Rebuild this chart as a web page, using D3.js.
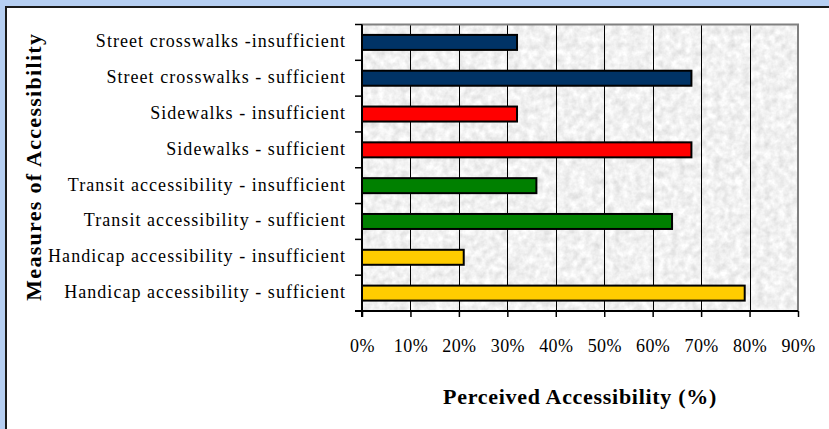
<!DOCTYPE html>
<html>
<head>
<meta charset="utf-8">
<script src="https://cdn.jsdelivr.net/npm/d3@7"></script>
<style>
  html, body { margin: 0; padding: 0; background: #b6cff2; }
  svg { display: block; }
</style>
</head>
<body>
<script>
// ---- data ----
const categories = [
  "Street crosswalks -insufficient",
  "Street crosswalks - sufficient",
  "Sidewalks - insufficient",
  "Sidewalks - sufficient",
  "Transit accessibility - insufficient",
  "Transit accessibility - sufficient",
  "Handicap accessibility - insufficient",
  "Handicap accessibility - sufficient"
];
const values = [32, 68, 32, 68, 36, 64, 21, 79];
const barColors = ["#003366", "#003366", "#ff0000", "#ff0000", "#008000", "#008000", "#ffcc00", "#ffcc00"];
const xTicks = [0, 10, 20, 30, 40, 50, 60, 70, 80, 90];
const xTitle = "Perceived Accessibility (%)";
const yTitle = "Measures of Accessibility";

// ---- layout ----
const W = 829, H = 429;
const plot = { left: 362, right: 798, top: 24.5, bottom: 311 };
const font = "'Liberation Serif', 'Times New Roman', serif";

const svg = d3.select("body").append("svg").attr("width", W).attr("height", H);

// noise texture filter for plot area
const defs = svg.append("defs");
const f = defs.append("filter").attr("id", "noise")
  .attr("x", 0).attr("y", 0).attr("width", "100%").attr("height", "100%")
  .attr("color-interpolation-filters", "sRGB");
f.append("feTurbulence").attr("type", "fractalNoise").attr("baseFrequency", 0.14)
  .attr("numOctaves", 3).attr("seed", 4).attr("result", "t");
f.append("feColorMatrix").attr("type", "matrix")
  .attr("values", "0.2 0 0 0 0.845  0.2 0 0 0 0.845  0.2 0 0 0 0.845  0 0 0 0 1");

// outer background + white panel
svg.append("rect").attr("x", 0).attr("y", 0).attr("width", W).attr("height", H).attr("fill", "#b6cff2");
svg.append("rect").attr("x", 6).attr("y", 7).attr("width", W + 10).attr("height", H + 10)
  .attr("fill", "#ffffff").attr("stroke", "#1a1a1a").attr("stroke-width", 2);

const x = d3.scaleLinear().domain([0, 90]).range([plot.left, plot.right]);
const y = d3.scaleBand().domain(categories).range([plot.top, plot.bottom]).paddingInner(0).paddingOuter(0);

// plot background
svg.append("rect").attr("x", plot.left).attr("y", plot.top)
  .attr("width", plot.right - plot.left).attr("height", plot.bottom - plot.top)
  .attr("filter", "url(#noise)");

// gridlines
svg.append("g").selectAll("line").data(xTicks.slice(1, -1)).join("line")
  .attr("x1", d => Math.round(x(d)) + 0.5).attr("x2", d => Math.round(x(d)) + 0.5)
  .attr("y1", plot.top).attr("y2", plot.bottom)
  .attr("stroke", "#000").attr("stroke-width", 1);

// plot border (top/right gray)
svg.append("path")
  .attr("d", `M${plot.left},${plot.top}H${plot.right}V${plot.bottom}`)
  .attr("fill", "none").attr("stroke", "#808080").attr("stroke-width", 2);

// bars
const barH = 15;
svg.append("g").selectAll("rect").data(categories).join("rect")
  .attr("x", x(0))
  .attr("y", d => y(d) + y.bandwidth() / 2 - barH / 2)
  .attr("width", (d, i) => x(values[i]) - x(0))
  .attr("height", barH)
  .attr("fill", (d, i) => barColors[i])
  .attr("stroke", "#000").attr("stroke-width", 2);

// x axis
const xAxis = d3.axisBottom(x).tickValues(xTicks).tickFormat(d => d + "%").tickSize(6).tickPadding(22);
const gx = svg.append("g").attr("transform", `translate(0,${plot.bottom})`).call(xAxis);
gx.select(".domain").attr("stroke", "#000").attr("stroke-width", 2)
  .attr("d", `M${plot.left - 7},0H${plot.right}`);
gx.selectAll(".tick line").attr("stroke", "#000").attr("stroke-width", 1.5);
gx.selectAll(".tick text").attr("font-family", font).attr("font-size", 18)
  .attr("letter-spacing", 0.4).attr("fill", "#000");

// y axis
const yTickPos = d3.range(categories.length + 1).map(i => plot.top + i * y.bandwidth());
svg.append("line").attr("x1", plot.left).attr("x2", plot.left)
  .attr("y1", plot.top).attr("y2", plot.bottom + 6).attr("stroke", "#000").attr("stroke-width", 2);
svg.append("g").selectAll("line").data(yTickPos).join("line")
  .attr("x1", plot.left - 7).attr("x2", plot.left)
  .attr("y1", d => d).attr("y2", d => d)
  .attr("stroke", "#000").attr("stroke-width", 1.5);

svg.append("g").selectAll("text").data(categories).join("text")
  .attr("x", 346)
  .attr("y", d => y(d) + y.bandwidth() / 2 + 5)
  .attr("text-anchor", "end")
  .attr("font-family", font).attr("font-size", 18).attr("letter-spacing", 1.05)
  .attr("fill", "#000")
  .text(d => d);

// titles
svg.append("text").attr("x", (plot.left + plot.right) / 2).attr("y", 404)
  .attr("text-anchor", "middle").attr("font-family", font).attr("font-weight", "bold")
  .attr("font-size", 22).attr("letter-spacing", 0.7).attr("fill", "#000")
  .text(xTitle);

svg.append("text").attr("transform", `translate(41,${(plot.top + plot.bottom) / 2 - 1}) rotate(-90)`)
  .attr("text-anchor", "middle").attr("font-family", font).attr("font-weight", "bold")
  .attr("font-size", 22).attr("letter-spacing", 1.3).attr("fill", "#000")
  .text(yTitle);
</script>
</body>
</html>
